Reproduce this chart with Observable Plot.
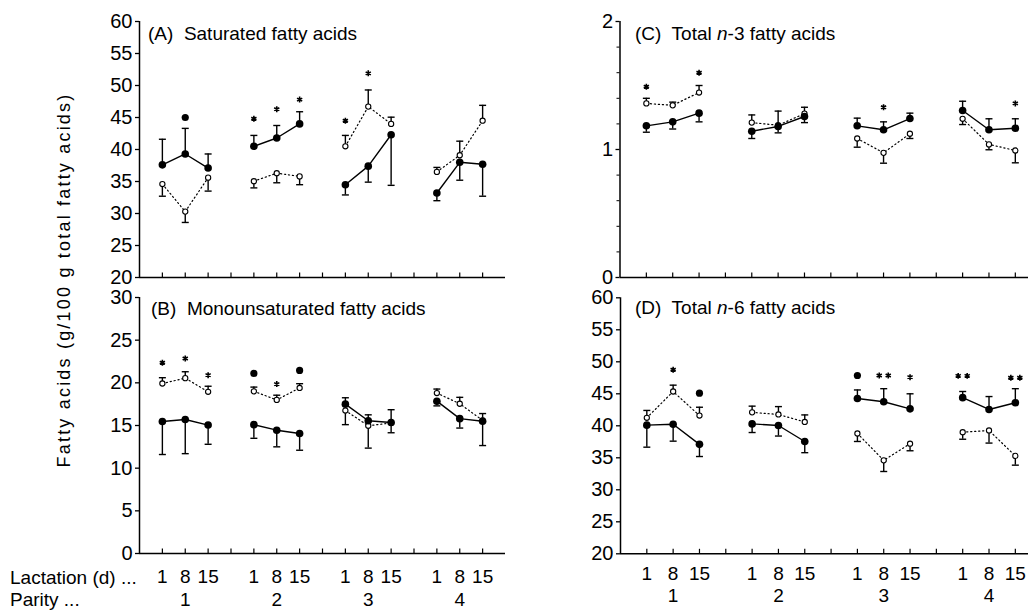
<!DOCTYPE html>
<html><head><meta charset="utf-8">
<script src="https://cdn.jsdelivr.net/npm/d3@7"></script>
<script src="https://cdn.jsdelivr.net/npm/@observablehq/plot@0.6"></script>
<style>
body{margin:0;background:#fff;}
#fig{position:relative;width:1031px;height:610px;font-family:"Liberation Sans",Arial,sans-serif;color:#000;overflow:hidden;}
.p{position:absolute;}
.lbl{position:absolute;font-size:19px;line-height:14px;white-space:pre;}
.ytitle{position:absolute;font-size:18px;line-height:18px;white-space:pre;letter-spacing:2.2px;transform:translate(-50%,-50%) rotate(-90deg);}
</style></head><body><div id="fig"></div>
<script>
// ---- shared categories ----
const slots = [1,2,3,5,6,7,9,10,11,13,14,15];
const parity = [1,1,1,2,2,2,3,3,3,4,4,4];
const tickSlots = [1,2,3,4,5,6,7,8,9,10,11,12,13,14,15];
const lactationLabels = ["1","8","15"];
const paritySlots = [2,6,10,14];
const parityLabels = ["1","2","3","4"];

// ---- (A) Saturated fatty acids ----
const satFilled    = [37.6, 39.3, 37.1, 40.5, 41.8, 44.0, 34.5, 37.4, 42.3, 33.2, 38.0, 37.7];
const satFilledErr = [41.6, 43.3, 39.3, 42.2, 43.75, 45.9, 32.9, 34.9, 34.4, 32.0, 35.2, 32.7];
const satOpen      = [34.6, 30.3, 35.6, 35.05, 36.3, 35.8, 40.5, 46.7, 44.0, 36.5, 39.1, 44.5];
const satOpenErr   = [32.7, 28.6, 33.5, 34.0, 34.8, 34.5, 42.2, 49.3, 45.05, 37.2, 41.3, 46.9];
const satSigSlots  = [2, 5, 6, 7, 9, 10];
const satSigValues = [45.0, 44.8, 46.3, 47.8, 44.5, 51.9];
const satSigMarks  = ["●","*","*","*","*","*"];

// ---- (B) Monounsaturated fatty acids ----
const monoFilled    = [15.47, 15.7, 15.05, 15.1, 14.45, 14.07, 17.5, 15.55, 15.35, 17.85, 15.8, 15.5];
const monoFilledErr = [11.6, 11.7, 12.8, 13.5, 12.5, 12.1, 18.25, 16.25, 16.85, 17.3, 14.7, 12.65];
const monoOpen      = [19.92, 20.55, 18.95, 19.0, 18.0, 19.4, 16.75, 14.97, 15.3, 18.8, 17.55, 15.6];
const monoOpenErr   = [20.6, 21.3, 19.6, 19.5, 18.55, 19.9, 15.1, 12.35, 14.15, 19.27, 18.3, 16.4];
const monoSigSlots  = [1, 2, 3, 5, 6, 7];
const monoSigValues = [22.35, 22.85, 20.9, 21.1, 19.85, 21.45];
const monoSigMarks  = ["*","*","*","●","*","●"];

// ---- (C) Total n-3 fatty acids ----
const n3Filled    = [1.185, 1.216, 1.284, 1.143, 1.18, 1.258, 1.185, 1.154, 1.242, 1.305, 1.154, 1.166];
const n3FilledErr = [1.135, 1.16, 1.216, 1.086, 1.13, 1.21, 1.245, 1.216, 1.284, 1.377, 1.24, 1.24];
const n3Open      = [1.36, 1.345, 1.445, 1.21, 1.19, 1.28, 1.086, 0.974, 1.123, 1.24, 1.04, 0.992];
const n3OpenErr   = [1.40, 1.37, 1.50, 1.27, 1.30, 1.33, 1.018, 0.893, 1.086, 1.195, 0.998, 0.896];
const n3SigSlots  = [1, 3, 10, 15];
const n3SigValues = [1.49, 1.60, 1.33, 1.36];
const n3SigMarks  = ["*","*","*","*"];

// ---- (D) Total n-6 fatty acids ----
const n6Filled    = [40.1, 40.25, 37.1, 40.3, 40.05, 37.55, 44.27, 43.75, 42.65, 44.4, 42.55, 43.6];
const n6FilledErr = [36.66, 37.6, 35.2, 38.95, 38.4, 35.8, 45.6, 45.8, 45.0, 45.36, 44.57, 45.8];
const n6Open      = [41.25, 45.36, 41.6, 42.1, 41.77, 40.6, 38.8, 34.6, 37.2, 39.0, 39.27, 35.3];
const n6OpenErr   = [42.4, 46.35, 42.9, 43.07, 43.0, 41.7, 37.55, 32.86, 36.1, 37.9, 37.3, 33.85];
const n6SigSlots  = [2, 3, 9, 10, 11, 13, 15];
const n6SigValues = [48.75, 45.1, 47.86, 47.86, 47.6, 47.8, 47.5];
const n6SigMarks  = ["*","●","●","**","*","**","**"];

// ---- tick values ----
const ticksA = [20,25,30,35,40,45,50,55,60];
const ticksB = [0,5,10,15,20,25,30];
const ticksC = [0,1,2];
const ticksCminor = [0.2,0.4,0.6,0.8,1.2,1.4,1.6,1.8];
const ticksD = [20,25,30,35,40,45,50,55,60];

function rowsOf(f, fe, o, oe) {
  return slots.map((s, i) => ({slot: s, parity: parity[i], filled: f[i], filledErr: fe[i], open: o[i], openErr: oe[i]}));
}
function sigOf(s, v, m) { return s.map((x, i) => ({slot: x, value: v[i], mark: m[i]})); }

const tickUp = {draw(ctx) { ctx.moveTo(0, 0); ctx.lineTo(0, -5); }};
const capSym = {draw(ctx) { ctx.moveTo(-3.5, 0); ctx.lineTo(3.5, 0); }};

function lactFormat(d) {
  const i = slots.indexOf(d);
  return i < 0 ? "" : lactationLabels[i % 3];
}
function parityFormat(d) { return parityLabels[paritySlots.indexOf(d)]; }

function panel(o) {
  const rows = o.rows, sig = o.sig, y0 = o.yDomain[0];
  const marks = [
    Plot.ruleY([y0], {stroke: "black", strokeWidth: 1.5}),
    Plot.ruleX([0], {stroke: "black", strokeWidth: 1.5}),
    Plot.dot(tickSlots, {x: d => d, y: y0, symbol: tickUp, stroke: "black", fill: "none", strokeWidth: 1.2}),
    Plot.axisY({ticks: o.yTicks, tickSize: 4, tickPadding: 3, fontSize: 20, strokeWidth: 1.3, tickFormat: d => String(d), label: null}),
  ];
  if (o.yMinor) marks.push(Plot.axisY({ticks: o.yMinor, tickSize: 3, tickFormat: () => "", strokeWidth: 1, label: null}));
  marks.push(
    Plot.line(rows, {x: "slot", y: "open", z: "parity", stroke: "black", strokeWidth: 1.2, strokeDasharray: "1.2,2.8"}),
    Plot.line(rows, {x: "slot", y: "filled", z: "parity", stroke: "black", strokeWidth: 1.4}),
    Plot.ruleX(rows, {x: "slot", y1: "filled", y2: "filledErr", stroke: "black", strokeWidth: 1.4}),
    Plot.ruleX(rows, {x: "slot", y1: "open", y2: "openErr", stroke: "black", strokeWidth: 1.4}),
    Plot.dot(rows, {x: "slot", y: "filledErr", symbol: capSym, stroke: "black", fill: "none", strokeWidth: 1.4}),
    Plot.dot(rows, {x: "slot", y: "openErr", symbol: capSym, stroke: "black", fill: "none", strokeWidth: 1.4}),
    Plot.dot(rows, {x: "slot", y: "open", r: 2.6, fill: "white", stroke: "black", strokeWidth: 1.1}),
    Plot.dot(rows, {x: "slot", y: "filled", r: 3.8, fill: "black"}),
    Plot.dot(sig.filter(d => d.mark === "●"), {x: "slot", y: "value", r: 3.6, fill: "black"}),
    Plot.dot(sig.filter(d => d.mark === "*"), {x: "slot", y: "value", symbol: "asterisk", r: 2.8, stroke: "black", strokeWidth: 1.6}),
    Plot.dot(sig.filter(d => d.mark === "**"), {x: "slot", y: "value", symbol: "asterisk", r: 2.8, stroke: "black", strokeWidth: 1.6, dx: -4.5}),
    Plot.dot(sig.filter(d => d.mark === "**"), {x: "slot", y: "value", symbol: "asterisk", r: 2.8, stroke: "black", strokeWidth: 1.6, dx: 4.5})
  );
  if (o.labels) {
    marks.push(
      Plot.axisX({ticks: tickSlots, tickFormat: lactFormat, tickSize: 0, tickPadding: o.lactPad, fontSize: 19, label: null}),
      Plot.axisX({ticks: paritySlots, tickFormat: parityFormat, tickSize: 0, tickPadding: o.parPad, fontSize: 19, label: null})
    );
  }
  const svg = Plot.plot({
    width: o.width, height: o.height,
    marginLeft: o.ml, marginRight: o.mr, marginTop: o.mt, marginBottom: o.mb,
    x: {domain: o.xDomain, axis: o.labels ? undefined : null, label: null},
    y: {domain: o.yDomain, label: null},
    style: {fontFamily: '"Liberation Sans", Arial, sans-serif', fontSize: "20px", background: "transparent", overflow: "visible", color: "black"},
    marks
  });
  svg.classList.add("p");
  svg.style.left = o.left + "px";
  svg.style.top = o.top + "px";
  return svg;
}

const fig = document.getElementById("fig");
fig.append(
  panel({left: 0, top: 0, width: 510, height: 280, ml: 139, mr: 5, mt: 21, mb: 3, xDomain: [0, 16], yDomain: [20, 60], yTicks: ticksA,
         rows: rowsOf(satFilled, satFilledErr, satOpen, satOpenErr), sig: sigOf(satSigSlots, satSigValues, satSigMarks)}),
  panel({left: 0, top: 280, width: 510, height: 330, ml: 139, mr: 5, mt: 17, mb: 57, xDomain: [0, 16], yDomain: [0, 30], yTicks: ticksB,
         rows: rowsOf(monoFilled, monoFilledErr, monoOpen, monoOpenErr), sig: sigOf(monoSigSlots, monoSigValues, monoSigMarks),
         labels: true, lactPad: 16, parPad: 39}),
  panel({left: 510, top: 0, width: 521, height: 280, ml: 109.5, mr: 3, mt: 21, mb: 3, xDomain: [0, 15.5], yDomain: [0, 2], yTicks: ticksC, yMinor: ticksCminor,
         rows: rowsOf(n3Filled, n3FilledErr, n3Open, n3OpenErr), sig: sigOf(n3SigSlots, n3SigValues, n3SigMarks)}),
  panel({left: 510, top: 280, width: 521, height: 330, ml: 110, mr: 3, mt: 17.3, mb: 56.7, xDomain: [0, 15.5], yDomain: [20, 60], yTicks: ticksD,
         rows: rowsOf(n6Filled, n6FilledErr, n6Open, n6OpenErr), sig: sigOf(n6SigSlots, n6SigValues, n6SigMarks),
         labels: true, lactPad: 13, parPad: 35})
);

function label(html, left, baseline) {
  const d = document.createElement("div");
  d.className = "lbl";
  d.innerHTML = html;
  d.style.left = left + "px";
  d.style.top = (baseline - 13.6) + "px";
  fig.append(d);
  return d;
}
label("(A)  Saturated fatty acids", 148, 41);
label("(B)  Monounsaturated fatty acids", 151, 316);
label("(C)  Total <i>n</i>-3 fatty acids", 635, 41);
label("(D)  Total <i>n</i>-6 fatty acids", 635, 315);
label("Lactation (d) ...", 10, 585);
label("Parity ...", 10, 607);

const yt = document.createElement("div");
yt.className = "ytitle";
yt.textContent = "Fatty acids (g/100 g total fatty acids)";
yt.style.left = "64px";
yt.style.top = "280px";
fig.append(yt);
</script></body></html>
